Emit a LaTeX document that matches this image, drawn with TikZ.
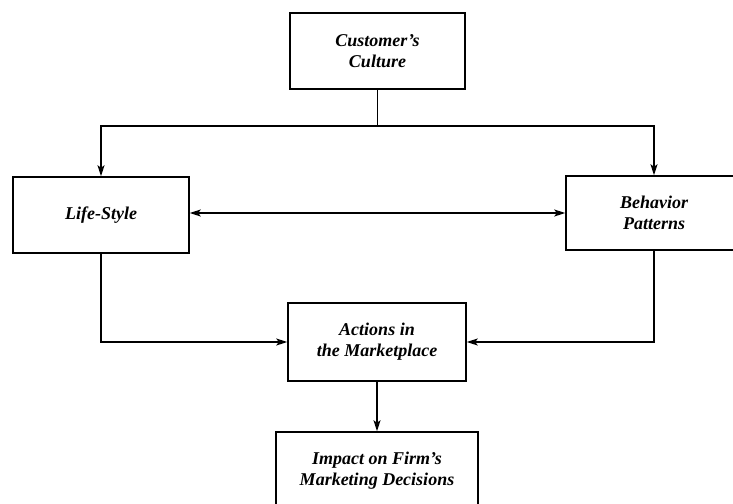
\documentclass[tikz,border=0pt]{standalone}
\usepackage{fontspec}
\setmainfont{Liberation Serif}
\usepackage{tikz}
\usetikzlibrary{arrows.meta}

\tikzset{
  factbox/.style={draw, line width=1.5pt, inner sep=0pt, align=center,
    font=\fontsize{18}{21}\selectfont\bfseries\itshape},
  tip/.tip={Stealth[length=11pt,width=7pt,inset=2.5pt]},
  flow/.style={line width=1.2pt, -tip}
}

\begin{document}
\begin{tikzpicture}[x=1pt,y=1pt,yscale=-1,xscale=1]
\useasboundingbox (0,0) rectangle (733,503);
\draw (377.5,51) node [factbox, minimum width=175pt, minimum height=76pt] (cult) {Customer's\\Culture};
\draw (101,215) node [factbox, minimum width=176pt, minimum height=76pt] (life) {Life-Style};
\draw (654,213) node [factbox, minimum width=176pt, minimum height=74pt] (behav) {Behavior\\Patterns};
\draw (377,342) node [factbox, minimum width=178pt, minimum height=78pt] (act) {Actions in\\the Marketplace};
\draw (377,471) node [factbox, minimum width=202pt, minimum height=78pt] (imp) {Impact on Firm's\\Marketing Decisions};
\coordinate (split) at (377.5,126);
\draw [line width=1.2pt] (cult.south) -- (split);
\draw [flow] (split) -| (life.north);
\draw [flow] (split) -| (behav.north);
\draw [flow, tip-tip] (life.east |- behav.west) -- (behav.west);
\draw [flow] (life.south) |- (act.west);
\draw [flow] (behav.south) |- (act.east);
\draw [flow] (act.south) -- (imp.north);
\end{tikzpicture}
\end{document}
